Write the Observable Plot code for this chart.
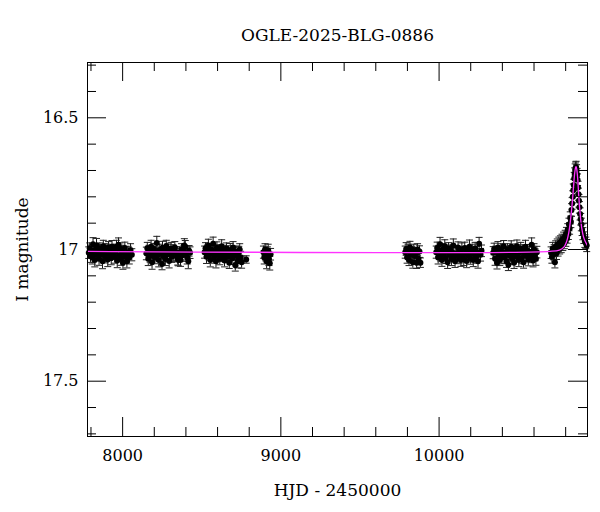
<!DOCTYPE html>
<html><head><meta charset="utf-8">
<script src="https://cdn.jsdelivr.net/npm/d3@7"></script>
<script src="https://cdn.jsdelivr.net/npm/@observablehq/plot@0.6"></script>
<style>body{margin:0;background:#fff}</style>
</head><body><div id="chart"></div>
<script>
const title = "OGLE-2025-BLG-0886";
const xLabel = "HJD - 2450000";
const yLabel = "I magnitude";
const xMajorTicks = [8000, 9000, 10000];
const xMinorTicks = [7800, 8200, 8400, 8600, 8800, 9200, 9400, 9600, 9800, 10200, 10400, 10600, 10800];
const yMajorTicks = [16.5, 17, 17.5];
const yMinorTicks = [16.3, 16.4, 16.6, 16.7, 16.8, 16.9, 17.1, 17.2, 17.3, 17.4, 17.6, 17.7];

// [HJD-2450000, I mag, error]
const season1 = [[7786,17.012,.022],[7792,16.995,.020],[7797,17.025,.024],[7803,17.004,.021],[7808,17.030,.025],[7813,16.980,.025],[7819,17.015,.020],[7824,17.040,.026],[7829,17.000,.023],[7835,16.985,.027],[7840,17.020,.021],[7846,17.008,.022],[7851,17.035,.025],[7856,16.995,.020],[7862,17.018,.024],[7867,17.002,.021],[7873,17.045,.028],[7878,16.988,.023],[7884,17.012,.022],[7889,17.026,.025],[7895,16.998,.020],[7900,17.010,.024],[7906,17.038,.027],[7911,16.992,.022],[7917,17.020,.021],[7922,17.005,.023],[7928,17.032,.026],[7933,16.990,.024],[7939,17.015,.022],[7944,17.000,.020],[7950,17.028,.024],[7955,17.008,.021],[7961,16.990,.025],[7966,17.042,.027],[7974,16.982,.026],[7978,17.022,.023],[7984,16.996,.021],[7990,17.034,.026],[7996,17.006,.022],[8002,17.050,.025],[8008,17.015,.024],[8014,16.994,.022],[8020,17.028,.023],[8027,17.045,.025],[8035,17.010,.022],[8042,17.030,.025],[8050,17.002,.024],[8058,17.020,.023]];
const season2 = [[8150,17.015,.024],[8156,16.995,.022],[8162,17.035,.026],[8168,17.005,.021],[8174,17.025,.023],[8180,16.990,.025],[8186,17.048,.027],[8192,17.010,.022],[8198,16.998,.021],[8204,17.030,.024],[8210,17.012,.022],[8216,16.975,.025],[8222,17.020,.023],[8228,17.040,.026],[8234,17.002,.022],[8240,17.015,.021],[8249,17.055,.022],[8252,16.993,.024],[8258,17.025,.022],[8264,17.008,.023],[8270,17.036,.025],[8276,16.987,.022],[8282,17.018,.021],[8288,17.003,.024],[8294,17.044,.026],[8300,17.012,.022],[8306,16.996,.023],[8312,17.028,.021],[8318,17.006,.024],[8324,17.020,.025],[8330,16.992,.022],[8336,17.020,.023],[8342,17.010,.021],[8348,17.034,.025],[8352,17.040,.022],[8360,17.016,.022],[8366,17.040,.024],[8372,17.000,.022],[8378,17.022,.023],[8384,17.008,.021],[8390,16.985,.026],[8396,16.990,.024],[8402,17.018,.022],[8408,17.030,.025],[8415,17.045,.028],[8420,17.005,.020],[8426,17.012,.022]];
const season3 = [[8518,17.010,.023],[8524,16.995,.021],[8530,17.028,.025],[8536,17.005,.022],[8542,16.985,.024],[8548,17.020,.021],[8554,17.040,.026],[8560,17.000,.022],[8566,17.015,.023],[8572,16.978,.025],[8578,17.030,.022],[8584,17.008,.021],[8590,17.045,.025],[8596,16.993,.022],[8602,17.018,.024],[8608,17.003,.021],[8614,17.035,.023],[8620,17.012,.022],[8626,16.988,.025],[8632,17.025,.021],[8638,17.006,.022],[8644,17.042,.024],[8650,17.015,.023],[8656,16.996,.021],[8662,17.028,.022],[8668,17.010,.024],[8674,17.050,.022],[8680,17.002,.025],[8686,17.020,.021],[8692,17.034,.023],[8698,16.992,.022],[8704,17.016,.024],[8712,17.060,.022],[8716,17.008,.021],[8722,17.026,.023],[8728,17.045,.025],[8734,17.012,.024],[8740,17.000,.022],[8746,17.030,.023],[8752,17.048,.023],[8781,17.038,.014]];
const season4 = [[8890,17.010,.023],[8895,17.030,.025],[8900,17.000,.022],[8905,17.022,.021],[8910,17.045,.028],[8915,17.012,.022],[8920,17.004,.024],[8925,17.036,.025],[8930,17.052,.026],[8935,17.018,.022]];
const season5 = [[9786,17.010,.023],[9792,16.998,.024],[9798,17.030,.022],[9804,17.005,.025],[9810,17.040,.021],[9816,16.992,.023],[9822,17.020,.022],[9828,17.012,.024],[9834,17.048,.023],[9840,17.002,.022],[9846,17.025,.025],[9852,17.015,.021],[9858,17.050,.022],[9864,17.000,.022],[9870,17.035,.023],[9876,17.008,.022],[9882,17.050,.018]];
const season6 = [[9982,17.010,.023],[9988,16.994,.022],[9994,17.030,.025],[10000,17.005,.021],[10006,16.980,.026],[10012,17.022,.022],[10018,17.040,.024],[10024,17.000,.022],[10030,17.015,.023],[10036,16.988,.025],[10042,17.032,.021],[10048,17.008,.022],[10054,17.048,.024],[10060,16.996,.022],[10066,17.018,.023],[10072,17.004,.021],[10078,17.036,.025],[10084,17.012,.022],[10090,16.985,.025],[10096,17.026,.021],[10101,17.045,.023],[10108,17.020,.022],[10114,17.014,.023],[10120,16.992,.021],[10126,17.030,.024],[10132,17.010,.022],[10138,17.040,.024],[10144,17.000,.025],[10150,17.022,.021],[10156,17.038,.023],[10162,16.994,.022],[10168,17.016,.024],[10174,17.044,.025],[10180,17.008,.021],[10186,17.024,.023],[10192,16.990,.026],[10198,17.034,.022],[10204,17.012,.024],[10210,17.002,.022],[10216,17.040,.025],[10222,17.018,.021],[10228,16.996,.023],[10234,17.028,.024],[10240,17.010,.022],[10246,17.045,.026],[10253,16.978,.024],[10262,17.020,.024],[10268,17.005,.022]];
const season7 = [[10342,17.012,.023],[10348,16.998,.022],[10354,17.035,.025],[10360,17.008,.021],[10366,17.050,.024],[10372,16.992,.022],[10378,17.020,.023],[10384,17.040,.021],[10390,17.003,.025],[10396,17.030,.022],[10402,17.015,.023],[10408,16.988,.022],[10414,17.030,.024],[10420,17.010,.021],[10426,17.045,.023],[10432,17.000,.022],[10438,17.058,.022],[10444,17.022,.024],[10450,17.006,.021],[10456,16.990,.023],[10462,17.034,.022],[10468,17.015,.025],[10474,17.050,.022],[10480,17.002,.023],[10486,17.026,.021],[10492,16.988,.024],[10498,17.018,.022],[10504,17.040,.025],[10510,17.010,.021],[10516,16.996,.023],[10522,17.032,.022],[10528,17.006,.024],[10534,17.048,.023],[10540,17.014,.021],[10546,16.990,.025],[10552,17.024,.022],[10558,17.004,.023],[10564,17.038,.024],[10570,17.012,.022],[10585,16.982,.026],[10582,17.028,.022],[10588,17.008,.021],[10594,17.042,.024],[10600,17.000,.022],[10606,17.020,.023],[10612,17.035,.025],[10618,17.010,.022]];
const season8 = [[10708,17.012,.022],[10713,17.028,.024],[10718,16.996,.023],[10722,17.018,.021],[10727,17.004,.022],[10732,17.048,.022],[10737,16.990,.023],[10742,17.014,.024],[10747,16.982,.022],[10752,17.002,.023],[10757,16.978,.025],[10762,16.996,.021],[10767,16.972,.024],[10772,16.990,.022],[10777,16.965,.023],[10782,16.982,.022],[10787,16.958,.024],[10792,16.975,.022],[10797,16.950,.023],[10801,16.966,.022],[10805,16.940,.024],[10809,16.955,.021],[10813,16.925,.023],[10817,16.940,.022],[10821,16.905,.024],[10825,16.920,.022],[10829,16.880,.023],[10833,16.895,.022],[10837,16.850,.024],[10841,16.825,.022],[10845,16.800,.023],[10848,16.775,.024],[10851,16.755,.022],[10854,16.730,.023],[10857,16.712,.022],[10860,16.698,.023],[10863,16.690,.022],[10866,16.688,.023],[10869,16.700,.022],[10872,16.715,.023],[10875,16.735,.022],[10878,16.765,.024],[10881,16.790,.023],[10884,16.815,.024],[10887,16.840,.022],[10891,16.865,.023],[10895,16.885,.022],[10899,16.905,.024],[10904,16.925,.022],[10909,16.940,.023],[10915,16.955,.022],[10921,16.968,.024],[10927,16.975,.022],[10933,16.985,.023]];

// model curve: [HJD-2450000, I mag]
const modelT = [7778, 10700, 10760, 10790, 10806, 10820, 10832, 10842, 10850, 10857, 10863, 10866, 10870, 10876, 10882, 10888, 10894, 10902, 10912, 10924, 10938];
const modelMag = [17.007, 17.007, 17.002, 16.99, 16.97, 16.935, 16.88, 16.82, 16.76, 16.71, 16.688, 16.685, 16.695, 16.73, 16.79, 16.84, 16.88, 16.92, 16.95, 16.97, 16.985];

const obs = [season1, season2, season3, season4, season5, season6, season7, season8]
  .flat().map(([t, m, e]) => ({t, m, e}));
const model = modelT.map((t, i) => ({t, m: modelMag[i]}));

const W = 600, H = 512, mt = 62, mb = 76, ml = 87, mr = 13;
const fw = W - ml - mr, fh = H - mt - mb;
const major = 19, minor = 9;

const cap = {draw(ctx, size) { const w = Math.sqrt(size / Math.PI); ctx.moveTo(-w, 0); ctx.lineTo(w, 0); }};

const chart = Plot.plot({
  width: W, height: H,
  marginTop: mt, marginBottom: mb, marginLeft: ml, marginRight: mr,
  style: {fontFamily: "'DejaVu Serif', serif", fontSize: "16px", background: "#fff", color: "#000"},
  x: {domain: [7778, 10938]},
  y: {domain: [16.29, 17.71], reverse: true},
  marks: [
    Plot.ruleX(obs, {x: "t", y1: d => d.m - d.e, y2: d => d.m + d.e, stroke: "#111", strokeWidth: 1}),
    Plot.dot(obs, {x: "t", y: d => d.m - d.e, symbol: cap, r: 3.5, stroke: "#222", fill: "none", strokeWidth: 1}),
    Plot.dot(obs, {x: "t", y: d => d.m + d.e, symbol: cap, r: 3.5, stroke: "#222", fill: "none", strokeWidth: 1}),
    Plot.dot(obs, {x: "t", y: "m", r: 3, fill: "#000", stroke: "none"}),
    Plot.line(model, {x: "t", y: "m", stroke: "#ff33ff", strokeWidth: 1.3, curve: "catmull-rom"}),
    // inward ticks on all four sides
    Plot.tickX(xMajorTicks, {x: d => d, insetTop: fh - major, stroke: "#000"}),
    Plot.tickX(xMajorTicks, {x: d => d, insetBottom: fh - major, stroke: "#000"}),
    Plot.tickX(xMinorTicks, {x: d => d, insetTop: fh - minor, stroke: "#000"}),
    Plot.tickX(xMinorTicks, {x: d => d, insetBottom: fh - minor, stroke: "#000"}),
    Plot.tickY(yMajorTicks, {y: d => d, insetRight: fw - major, stroke: "#000"}),
    Plot.tickY(yMajorTicks, {y: d => d, insetLeft: fw - major, stroke: "#000"}),
    Plot.tickY(yMinorTicks, {y: d => d, insetRight: fw - minor, stroke: "#000"}),
    Plot.tickY(yMinorTicks, {y: d => d, insetLeft: fw - minor, stroke: "#000"}),
    Plot.frame({stroke: "#000", strokeWidth: 1}),
    Plot.axisX({ticks: xMajorTicks, tickSize: 0, tickPadding: 13, tickFormat: d => String(d), label: null, fontSize: 16}),
    Plot.axisY({ticks: yMajorTicks, tickSize: 0, tickPadding: 9, tickFormat: d => String(d), label: null, fontSize: 16}),
    Plot.text([title], {frameAnchor: "top", dy: -27, lineAnchor: "middle", fontSize: 17, text: d => d}),
    Plot.text([xLabel], {frameAnchor: "bottom", dy: 54, lineAnchor: "middle", fontSize: 17, text: d => d}),
    Plot.text([yLabel], {frameAnchor: "left", dx: -65, rotate: -90, lineAnchor: "middle", textAnchor: "middle", fontSize: 17, text: d => d})
  ]
});
document.getElementById("chart").appendChild(chart);
</script>
</body></html>
